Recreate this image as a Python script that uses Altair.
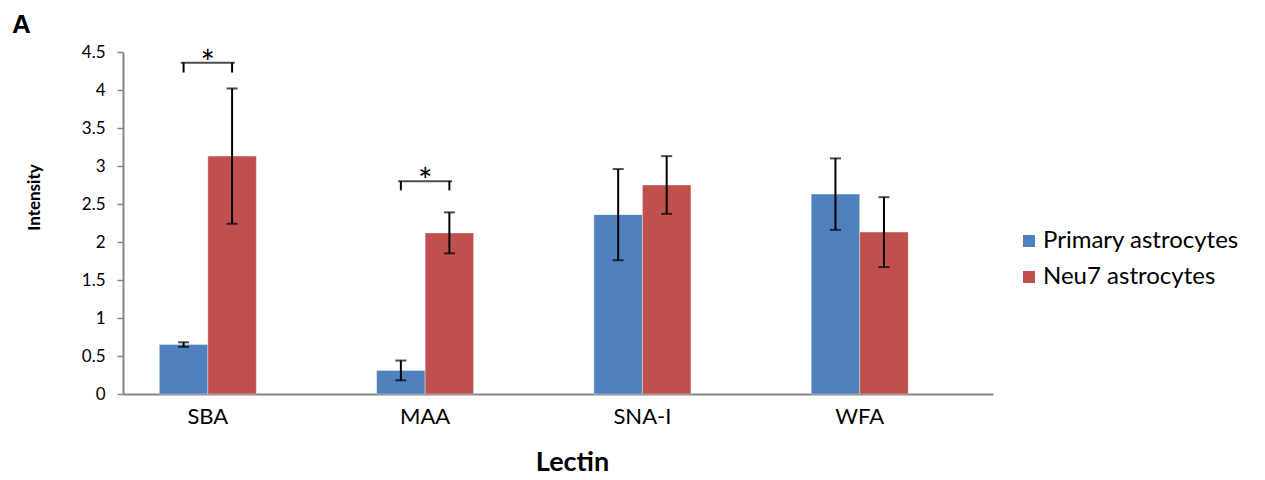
import altair as alt
import pandas as pd

lectins = ["SBA", "MAA", "SNA-I", "WFA"]
series = ["Primary astrocytes", "Neu7 astrocytes"]
colors = ["#4F81BD", "#C0504D"]
primary_vals = [0.65, 0.31, 2.36, 2.63]
primary_err = [0.03, 0.13, 0.60, 0.47]
neu7_vals = [3.13, 2.12, 2.75, 2.13]
neu7_err = [0.89, 0.27, 0.38, 0.46]

sig_lectins = ["SBA", "MAA"]
sig_bracket_top = [4.36, 2.80]
sig_bracket_leg = [4.23, 2.68]
y_ticks = [0, 0.5, 1, 1.5, 2, 2.5, 3, 3.5, 4, 4.5]

rows = []
for i, lec in enumerate(lectins):
    rows.append({"lectin": lec, "series": series[0], "value": primary_vals[i],
                 "lo": primary_vals[i] - primary_err[i], "hi": primary_vals[i] + primary_err[i]})
    rows.append({"lectin": lec, "series": series[1], "value": neu7_vals[i],
                 "lo": neu7_vals[i] - neu7_err[i], "hi": neu7_vals[i] + neu7_err[i]})
df = pd.DataFrame(rows)

sig_rows = []
for i, lec in enumerate(sig_lectins):
    for s in series:
        sig_rows.append({"lectin": lec, "series": s, "top": sig_bracket_top[i], "leg": sig_bracket_leg[i]})
sig = pd.DataFrame(sig_rows)
sig_center = pd.DataFrame({"lectin": sig_lectins, "top": sig_bracket_top, "star": ["*", "*"]})

FONT = "Lato"

x_axis = alt.Axis(title="Lectin", labelAngle=0, labelFontSize=22, labelColor="#000000",
                  labelFont=FONT, labelPadding=12, ticks=False, domainColor="#868686",
                  domainWidth=2, titleFont=FONT, titleFontSize=27, titleFontWeight="bold",
                  titleColor="#000000", titleX=449, titleY=76, titleBaseline="alphabetic",
                  titleAlign="center")
y_axis = alt.Axis(title="Intensity", values=y_ticks, format=".1~f", grid=False,
                  labelFontSize=17, labelFont=FONT, labelColor="#000000", labelPadding=12,
                  labelOverlap=False, tickCount=10,
                  tickSize=6, tickColor="#868686", tickWidth=1.5, domainColor="#868686",
                  domainWidth=2, titleFont=FONT, titleFontSize=17, titleFontWeight="bold",
                  titleColor="#000000", titleX=-89, titleY=145, titleAngle=-90,
                  titleAlign="center", titleBaseline="middle")
x_scale = alt.Scale(domain=lectins, paddingInner=0.5536, paddingOuter=0.2787, align=0.30)
y_scale = alt.Scale(domain=[0, 4.5], nice=False)


def X():
    return alt.X("lectin:N", sort=lectins, scale=x_scale, axis=x_axis)


def Y(field):
    return alt.Y(field, scale=y_scale, axis=y_axis, title="Intensity")


xoff = alt.XOffset("series:N", sort=series, scale=alt.Scale(domain=series))

bars = alt.Chart(df).mark_bar(stroke="#ffffff", strokeWidth=0.6, strokeOpacity=0.6).encode(
    x=X(),
    xOffset=xoff,
    y=Y("value:Q"),
    color=alt.Color("series:N", sort=series, scale=alt.Scale(domain=series, range=colors),
                    legend=alt.Legend(title=None, orient="none", legendX=894, legendY=177,
                                      symbolType="square", symbolSize=144, symbolStrokeWidth=0,
                                      labelFont=FONT, labelFontSize=24, labelColor="#000000",
                                      labelOffset=2, rowPadding=12, labelLimit=0)),
)

err_rule = alt.Chart(df).mark_rule(color="#000000", strokeWidth=2).encode(
    x=X(), xOffset=xoff, y=Y("lo:Q"), y2="hi:Q")
cap_lo = alt.Chart(df).mark_tick(color="#000000", thickness=2, size=11).encode(
    x=X(), xOffset=xoff, y=Y("lo:Q"))
cap_hi = alt.Chart(df).mark_tick(color="#000000", thickness=2, size=11).encode(
    x=X(), xOffset=xoff, y=Y("hi:Q"))

legs = alt.Chart(sig).mark_rule(color="#000000", strokeWidth=2).encode(
    x=X(), xOffset=xoff, y=Y("leg:Q"), y2="top:Q")
bracket = alt.Chart(sig_center).mark_tick(color="#000000", thickness=2, size=54).encode(
    x=X(), y=Y("top:Q"))
stars = alt.Chart(sig_center).mark_text(font=FONT, fontSize=34, color="#000000",
                                        baseline="alphabetic", dy=12).encode(
    x=X(), y=Y("top:Q"), text="star:N")

chart = alt.layer(bars, err_rule, cap_lo, cap_hi, legs, bracket, stars).properties(
    width=870, height=342,
    autosize=alt.AutoSizeParams(type="none"),
    padding={"left": 115, "top": 44, "right": 256, "bottom": 84},
    title=alt.TitleParams("A", anchor="start", frame="group", dx=-111, offset=5,
                          font="Liberation Sans", fontSize=26, fontWeight="bold", color="#000000"),
).configure(background="#ffffff", view=alt.ViewConfig(stroke="transparent", strokeWidth=0))

chart.save("out.html", embed_options={"renderer": "svg", "actions": False})
